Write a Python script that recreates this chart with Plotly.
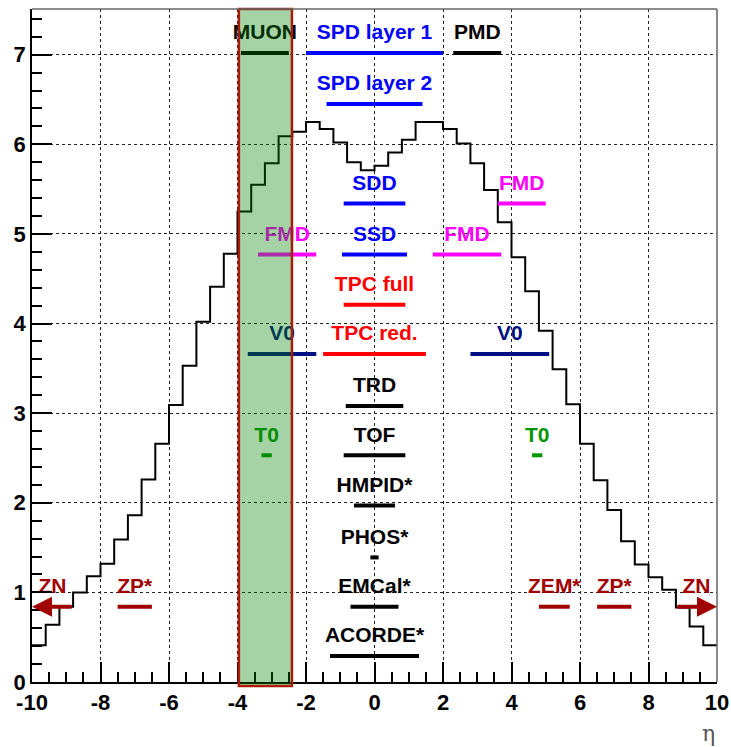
import plotly.graph_objects as go

# ---------------- data ----------------
# charged-particle pseudorapidity density histogram (bin width 0.4, from -10 to 10)
bin_lo = -10.0
bin_w = 0.4
dndeta = [0.41, 0.64, 0.84, 1.00, 1.18, 1.32, 1.59, 1.86, 2.26, 2.66,
          3.09, 3.53, 4.02, 4.41, 4.78, 5.25, 5.55, 5.79, 6.09, 6.14,
          6.25, 6.17, 6.02, 5.80, 5.71, 5.76, 5.91, 6.05, 6.25, 6.25,
          6.17, 6.01, 5.79, 5.49, 5.13, 4.74, 4.36, 3.92, 3.49, 3.10,
          2.66, 2.25, 1.92, 1.57, 1.31, 1.17, 1.03, 0.83, 0.62, 0.41]

# detector acceptances
det_names = ["MUON", "SPD layer 1", "PMD", "SPD layer 2", "SDD", "FMD",
             "FMD", "SSD", "FMD", "TPC full", "V0", "TPC red.", "V0",
             "TRD", "T0", "TOF", "T0", "HMPID*", "PHOS*", "EMCal*",
             "ACORDE*", "ZP*", "ZEM*", "ZP*"]
det_eta_min = [-3.9, -2.0, 2.3, -1.4, -0.9, 3.6,
               -3.4, -0.95, 1.7, -0.9, -3.7, -1.5, 2.8,
               -0.84, -3.3, -0.9, 4.6, -0.6, -0.12, -0.7,
               -1.3, -7.5, 4.8, 6.5]
det_eta_max = [-2.5, 2.0, 3.7, 1.4, 0.9, 5.0,
               -1.7, 0.95, 3.7, 0.9, -1.7, 1.5, 5.1,
               0.84, -3.0, 0.9, 4.9, 0.6, 0.12, 0.7,
               1.3, -6.5, 5.7, 7.5]
det_row = [7.02, 7.02, 7.02, 6.45, 5.34, 5.34,
           4.77, 4.77, 4.77, 4.21, 3.66, 3.66, 3.66,
           3.08, 2.53, 2.53, 2.53, 1.97, 1.39, 0.84,
           0.29, 0.84, 0.84, 0.84]

# zero-degree neutron calorimeters (arrows pointing outwards)
zn_eta_inner = [-8.8, 8.8]
zn_eta_outer = [-10.0, 10.0]
zn_row = 0.84

muon_band = [-3.96, -2.41]

x_ticks = [-10, -8, -6, -4, -2, 0, 2, 4, 6, 8, 10]
y_ticks = [0, 1, 2, 3, 4, 5, 6, 7]

# ---------------- styles ----------------
BLACK = "#000000"
BLUE = "#0000ff"
MAGENTA = "#ff00ff"
RED = "#ff0000"
NAVY = "#001080"
GREEN = "#009600"
DARKRED = "#a00000"
det_colors = {"MUON": BLACK, "SPD layer 1": BLUE, "PMD": BLACK,
              "SPD layer 2": BLUE, "SDD": BLUE, "FMD": MAGENTA, "SSD": BLUE,
              "TPC full": RED, "V0": NAVY, "TPC red.": RED, "TRD": BLACK,
              "T0": GREEN, "TOF": BLACK, "HMPID*": BLACK, "PHOS*": BLACK,
              "EMCal*": BLACK, "ACORDE*": BLACK, "ZP*": DARKRED,
              "ZEM*": DARKRED, "ZN": DARKRED}

FONT = "Liberation Sans, Arial, sans-serif"
LABEL_SIZE = 21
LABEL_OFFSET = 0.21

X_RANGE = [-10, 10]
Y_RANGE = [0, 7.51]

fig = go.Figure()

# histogram as step line
edges = [bin_lo + bin_w * i for i in range(len(dndeta) + 1)]
fig.add_trace(go.Scatter(x=edges, y=dndeta + [dndeta[-1]], mode="lines",
                         line=dict(color=BLACK, width=2, shape="hv"),
                         hoverinfo="skip", showlegend=False))

# detector bars
for n, lo, hi, r in zip(det_names, det_eta_min, det_eta_max, det_row):
    fig.add_trace(go.Scatter(x=[lo, hi], y=[r, r], mode="lines",
                             line=dict(color=det_colors[n], width=4),
                             hoverinfo="skip", showlegend=False))

# labels
lab_x = [(lo + hi) / 2 for lo, hi in zip(det_eta_min, det_eta_max)]
lab_y = [r + LABEL_OFFSET for r in det_row]
lab_t = list(det_names)
lab_c = [det_colors[n] for n in det_names]
for a, b in zip(zn_eta_inner, zn_eta_outer):
    lab_x.append((a + b) / 2)
    lab_y.append(zn_row + LABEL_OFFSET)
    lab_t.append("ZN")
    lab_c.append(det_colors["ZN"])
fig.add_trace(go.Scatter(x=lab_x, y=lab_y, text=lab_t, mode="text",
                         textposition="middle center", cliponaxis=False,
                         textfont=dict(family=FONT, size=LABEL_SIZE,
                                       color=lab_c, weight="bold"),
                         hoverinfo="skip", showlegend=False))

# ZN arrows
for a, b in zip(zn_eta_inner, zn_eta_outer):
    fig.add_annotation(x=b, y=zn_row, ax=a, ay=zn_row, xref="x", yref="y",
                       axref="x", ayref="y", text="", showarrow=True,
                       arrowhead=2, arrowsize=1, arrowwidth=4,
                       arrowcolor=det_colors["ZN"], standoff=0)

# MUON acceptance band (overlay)
def xp(v):
    return (v - X_RANGE[0]) / (X_RANGE[1] - X_RANGE[0])

fig.add_shape(type="rect", xref="paper", yref="paper",
              x0=xp(muon_band[0]), x1=xp(muon_band[1]), y0=-0.006, y1=1.0,
              fillcolor="rgba(0,128,0,0.35)",
              line=dict(color="#a81c08", width=2.5), layer="above")

# grey top/right frame
fig.add_shape(type="line", xref="paper", yref="paper", x0=0, x1=1, y0=1, y1=1,
              line=dict(color="#666666", width=1.5))
fig.add_shape(type="line", xref="paper", yref="paper", x0=1, x1=1, y0=0, y1=1,
              line=dict(color="#666666", width=1.5))

fig.add_annotation(text="η", xref="paper", yref="paper", x=1.0, y=-0.076,
                   xanchor="right", yanchor="middle",
                   showarrow=False, font=dict(family="DejaVu Serif", size=22,
                                              color="#555555"))

axis_common = dict(showline=True, linecolor=BLACK, linewidth=1.5, mirror=False,
                   ticks="inside", ticklen=20, tickwidth=1.5, tickcolor=BLACK,
                   showgrid=True, gridcolor="#222222", griddash="dot",
                   gridwidth=1, zeroline=False, automargin=False,
                   tickfont=dict(family=FONT, size=22, color=BLACK,
                                 weight="bold"))

fig.update_xaxes(range=X_RANGE, tickvals=x_ticks,
                 ticktext=[str(v) for v in x_ticks],
                 minor=dict(dtick=0.5, ticks="inside", ticklen=10,
                            tickcolor=BLACK, showgrid=False),
                 **axis_common)
fig.update_yaxes(range=Y_RANGE, tickvals=y_ticks,
                 ticktext=[str(v) for v in y_ticks],
                 minor=dict(dtick=0.2, ticks="inside", ticklen=10,
                            tickcolor=BLACK, showgrid=False),
                 **axis_common)

fig.update_layout(width=731, height=747,
                  margin=dict(l=32, r=14, t=9, b=65, autoexpand=False),
                  paper_bgcolor="white", plot_bgcolor="white",
                  showlegend=False)

fig.write_html("out.html")
